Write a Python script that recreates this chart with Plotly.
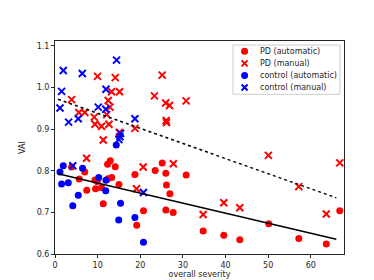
import plotly.graph_objects as go

# PD (automatic)
pd_auto_x = [6.98, 5.69, 7.45, 9.37, 9.91, 9.51, 10.92, 11.32, 12.33, 12.96, 14.13, 12.42, 13.31,
             15.0, 18.75, 23.5, 25.15, 26.0, 26.15, 26.95, 20.76, 26.0, 27.72, 19.17, 30.77, 3.89,
             34.76, 39.6, 43.36, 50.15, 57.2, 63.65, 66.8]
pd_auto_y = [0.797, 0.780, 0.753, 0.778, 0.774, 0.757, 0.759, 0.721, 0.816, 0.824, 0.810, 0.781, 0.784,
             0.767, 0.791, 0.801, 0.819, 0.794, 0.766, 0.745, 0.704, 0.706, 0.700, 0.669, 0.790, 0.809,
             0.655, 0.645, 0.634, 0.673, 0.637, 0.624, 0.704]

# PD (manual)
pd_man_x = [9.98, 14.13, 3.89, 5.62, 6.98, 9.21, 9.37, 10.92, 12.49, 12.66, 12.89, 13.26, 15.14,
            12.14, 11.32, 18.75, 15.07, 23.34, 25.15, 25.97, 26.86, 26.08, 26.15, 30.77, 7.41,
            20.69, 19.12, 27.77, 50.06, 66.8, 57.18, 39.6, 43.36, 34.76, 63.65]
pd_man_y = [1.027, 1.024, 0.971, 0.940, 0.940, 0.929, 0.912, 0.907, 0.969, 0.912, 0.953, 0.990, 0.990,
            0.935, 0.874, 0.902, 0.892, 0.980, 1.030, 0.963, 0.957, 0.921, 0.916, 0.968, 0.830,
            0.809, 0.757, 0.817, 0.837, 0.819, 0.762, 0.723, 0.711, 0.695, 0.696]

# control (automatic)
ct_auto_x = [1.17, 1.95, 1.55, 3.12, 6.47, 10.26, 11.95, 11.91, 5.46, 4.17, 14.37, 15.37, 14.95, 18.75, 20.76]
ct_auto_y = [0.797, 0.812, 0.768, 0.771, 0.806, 0.784, 0.777, 0.752, 0.741, 0.716, 0.862, 0.722, 0.682, 0.688, 0.628]

# control (manual)
ct_man_x = [1.95, 6.40, 1.55, 1.17, 3.19, 5.46, 10.15, 11.95, 11.91, 14.44, 18.75, 15.38, 15.24, 14.99, 4.17, 20.76]
ct_man_y = [1.041, 1.034, 0.991, 0.951, 0.917, 0.925, 0.953, 0.996, 0.948, 1.066, 0.925, 0.890, 0.882, 0.875, 0.812, 0.748]

# regression lines (endpoints)
fit_x = [0.7, 66.0]
fit_auto_y = [0.793, 0.6355]
fit_man_y = [0.972, 0.735]

# legend entries
legend_labels = ["PD (automatic)", "PD (manual)", "control (automatic)", "control (manual)"]

RED = "#ff0000"
BLUE = "#0000ff"
series_colors = [RED, RED, BLUE, BLUE]
series_symbols = ["dot", "cross", "dot", "cross"]

fig = go.Figure()
fig.add_trace(go.Scatter(x=pd_auto_x, y=pd_auto_y, mode="markers", name=legend_labels[0],
                         marker=dict(symbol="circle", size=7, color=RED, line=dict(width=0))))
fig.add_trace(go.Scatter(x=pd_man_x, y=pd_man_y, mode="markers", name=legend_labels[1],
                         marker=dict(symbol="x-thin", size=7, color=RED, line=dict(width=2, color=RED))))
fig.add_trace(go.Scatter(x=ct_auto_x, y=ct_auto_y, mode="markers", name=legend_labels[2],
                         marker=dict(symbol="circle", size=7, color=BLUE, line=dict(width=0))))
fig.add_trace(go.Scatter(x=ct_man_x, y=ct_man_y, mode="markers", name=legend_labels[3],
                         marker=dict(symbol="x-thin", size=7, color=BLUE, line=dict(width=2, color=BLUE))))
fig.add_trace(go.Scatter(x=fit_x, y=fit_auto_y, mode="lines", showlegend=False,
                         line=dict(color="black", width=1.5)))
fig.add_trace(go.Scatter(x=fit_x, y=fit_man_y, mode="lines", showlegend=False,
                         line=dict(color="black", width=1.5, dash="dot")))

# custom compact legend (matplotlib-like)
box_x0, box_x1, box_y0, box_y1 = 0.616, 0.986, 0.75, 0.981
mk_x, txt_x = 0.656, 0.703
row_y = [0.952, 0.895, 0.838, 0.782]
shapes = [dict(type="rect", xref="paper", yref="paper", x0=box_x0, x1=box_x1, y0=box_y0, y1=box_y1,
               line=dict(color="#cccccc", width=1), fillcolor="rgba(255,255,255,0.8)", layer="above")]
annotations = []
for lab, col, sym, yy in zip(legend_labels, series_colors, series_symbols, row_y):
    if sym == "dot":
        shapes.append(dict(type="circle", xref="paper", yref="paper", xsizemode="pixel", ysizemode="pixel",
                           xanchor=mk_x, yanchor=yy, x0=-3.5, x1=3.5, y0=-3.5, y1=3.5,
                           fillcolor=col, line=dict(width=0), layer="above"))
    else:
        for (a, b) in [(-3, 3), (3, -3)]:
            shapes.append(dict(type="line", xref="paper", yref="paper", xsizemode="pixel", ysizemode="pixel",
                               xanchor=mk_x, yanchor=yy, x0=-3, x1=3, y0=a, y1=b,
                               line=dict(color=col, width=2), layer="above"))
    annotations.append(dict(x=txt_x, y=yy, xref="paper", yref="paper", text=lab, showarrow=False,
                            xanchor="left", yanchor="middle", font=dict(size=8, color="#262626")))

axis_common = dict(showgrid=False, zeroline=False, showline=True, linecolor="#262626", linewidth=1,
                   mirror=True, ticks="outside", ticklen=3, tickcolor="#262626",
                   tickfont=dict(size=8, color="#262626"))

fig.update_layout(
    width=374, height=280,
    margin=dict(l=47, r=38, t=33, b=31),
    paper_bgcolor="white", plot_bgcolor="white",
    font=dict(family="DejaVu Sans", size=8, color="#262626"),
    xaxis=dict(range=[0, 67.8], tickvals=[0, 10, 20, 30, 40, 50, 60],
               title=dict(text="overall severity", font=dict(size=8), standoff=1), **axis_common),
    yaxis=dict(range=[0.6, 1.112], tickvals=[0.6, 0.7, 0.8, 0.9, 1.0, 1.1], tickformat=".1f",
               title=dict(text="VAI", font=dict(size=8), standoff=9), **axis_common),
    showlegend=False,
    shapes=shapes,
    annotations=annotations,
)

fig.write_html("out.html")
